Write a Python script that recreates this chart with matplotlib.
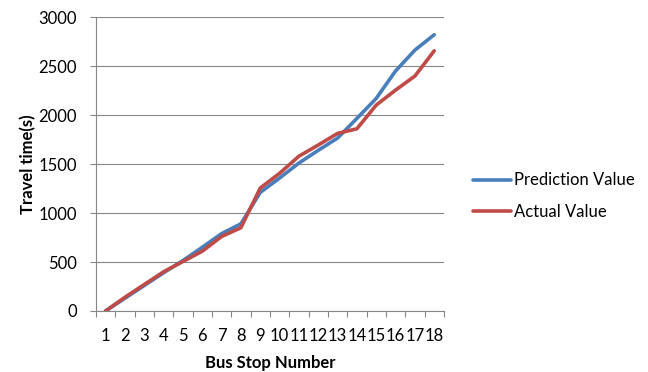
import matplotlib.pyplot as plt
import numpy as np

plt.rcParams['font.family'] = ['Lato', 'DejaVu Sans']

# bus stops and travel times (seconds)
stops = list(range(1, 19))
prediction = [0, 130, 260, 390, 515, 650, 790, 890, 1210, 1357, 1510, 1640, 1765, 1966, 2170, 2450, 2663, 2820]
actual = [0, 140, 270, 400, 505, 610, 760, 850, 1255, 1405, 1580, 1694, 1813, 1860, 2102, 2255, 2398, 2656]

fig = plt.figure(figsize=(6.48, 3.72), dpi=100)
ax = fig.add_axes([0.148, 0.164, 0.537, 0.790])

ax.plot(stops, prediction, color='#4A7EBB', lw=2.6, label='Prediction Value', solid_capstyle='round')
ax.plot(stops, actual, color='#BE4B48', lw=2.6, label='Actual Value', solid_capstyle='round')

ax.set_xlim(0.5, 18.5)
ax.set_ylim(0, 3000)
ax.set_yticks(np.arange(0, 3001, 500))
ax.set_xticks(stops)
ax.set_xticks(np.arange(0.5, 18.6, 1), minor=True)
ax.tick_params(axis='x', which='major', length=0, pad=12, labelsize=12)
ax.tick_params(axis='x', which='minor', length=4.5, color='#868686', width=0.8)
ax.tick_params(axis='y', length=4.5, color='#868686', width=0.8, labelsize=12, pad=9)

ax.grid(axis='y', color='#868686', lw=0.8)
ax.set_axisbelow(True)
for s in ['top', 'right']:
    ax.spines[s].set_visible(False)
for s in ['left', 'bottom']:
    ax.spines[s].set_color('#868686')
    ax.spines[s].set_linewidth(0.8)

ax.set_xlabel('Bus Stop Number', fontweight='bold', fontsize=12, labelpad=8)
ax.set_ylabel('Travel time(s)', fontweight='bold', fontsize=12, labelpad=2)

ax.legend(loc='center left', bbox_to_anchor=(1.04, 0.39), frameon=False,
          fontsize=12, handlelength=2.3, handletextpad=0.15, labelspacing=0.95)

fig.savefig('out.png', dpi=100)
